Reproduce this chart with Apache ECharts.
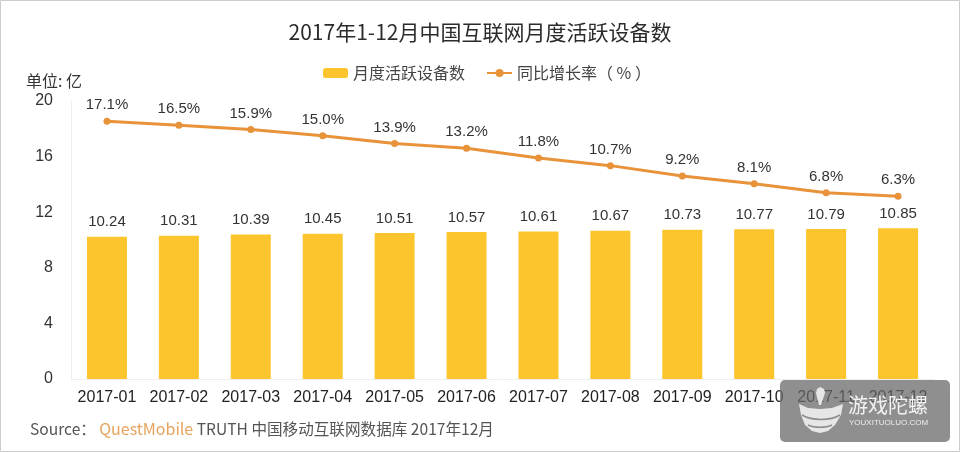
<!DOCTYPE html>
<html>
<head>
<meta charset="utf-8">
<style>
html,body{margin:0;padding:0;background:#fff}
#main{width:960px;height:452px}
</style>
<script src="https://cdn.jsdelivr.net/npm/echarts@6/dist/echarts.min.js"></script>
</head>
<body>
<div id="main"></div>
<script>
var months = ['2017-01','2017-02','2017-03','2017-04','2017-05','2017-06','2017-07','2017-08','2017-09','2017-10','2017-11','2017-12'];
var devices = [10.24,10.31,10.39,10.45,10.51,10.57,10.61,10.67,10.73,10.77,10.79,10.85];
var growth = [17.1,16.5,15.9,15.0,13.9,13.2,11.8,10.7,9.2,8.1,6.8,6.3];
var leftTicks = [0,4,8,12,16,20];

var fontName = '"Liberation Sans","Noto Sans CJK SC",sans-serif';
var cjkFont = '"Noto Sans CJK SC",sans-serif';
var textColor = '#333';

var chart = echarts.init(document.getElementById('main'), null, {renderer:'canvas'});
chart.setOption({
    animation:false,
    backgroundColor:'#fff',
    textStyle:{fontFamily:fontName},
    title:{
        text:'2017年1-12月中国互联网月度活跃设备数',
        left:'center',
        top:22,
        padding:0,
        textStyle:{fontFamily:cjkFont,fontSize:21,fontWeight:'normal',color:'#2b2b2b'}
    },
    legend:{
        top:65,
        left:323,
        itemWidth:25,
        itemHeight:10,
        itemGap:21,
        padding:0,
        textStyle:{fontFamily:cjkFont,fontSize:16,color:'#444'},
        data:[
            {name:'月度活跃设备数'},
            {name:'同比增长率（ % ）'}
        ]
    },
    grid:{left:71,right:26,top:101,bottom:73},
    xAxis:{
        type:'category',
        data:months,
        axisTick:{show:false},
        axisLine:{lineStyle:{color:'#eee'}},
        axisLabel:{color:'#222',fontSize:16,margin:11,interval:0}
    },
    yAxis:[{
        type:'value',
        min:leftTicks[0],
        max:leftTicks[leftTicks.length-1],
        interval:4,
        name:'单位: 亿',
        nameLocation:'end',
        nameGap:12,
        nameTextStyle:{fontFamily:cjkFont,fontSize:16,color:textColor,align:'left',padding:[0,0,0,-45]},
        axisLine:{show:true,lineStyle:{color:'#eee'}},
        axisTick:{show:false},
        splitLine:{show:false},
        axisLabel:{color:textColor,fontSize:16,margin:18}
    },{
        type:'value',
        min:-20,
        max:20,
        show:false,
        splitLine:{show:false}
    }],
    series:[{
        name:'月度活跃设备数',
        type:'bar',
        data:devices,
        barWidth:40,
        itemStyle:{color:'#fdc52d'},
        label:{show:true,position:'top',distance:7,color:textColor,fontSize:15,
            formatter:function(p){return p.value.toFixed(2)}}
    },{
        name:'同比增长率（ % ）',
        type:'line',
        yAxisIndex:1,
        data:growth,
        symbol:'circle',
        symbolSize:7,
        lineStyle:{color:'#e8933a',width:3},
        itemStyle:{color:'#e8933a'},
        label:{show:true,position:'top',distance:5,color:textColor,fontSize:15,
            formatter:function(p){return p.value.toFixed(1)+'%'}}
    }],
    graphic:[
        {type:'rect',z:1,silent:true,shape:{x:0.5,y:0.5,width:959,height:451},
            style:{fill:'none',stroke:'#ccc',lineWidth:1}},
        {type:'text',z:10,x:30,y:421,style:{
            text:'{a|Source：} {b|QuestMobile}{a| TRUTH 中国移动互联网数据库 2017年12月}',
            rich:{
                a:{fontFamily:cjkFont,fontSize:15.6,fill:'#555'},
                b:{fontFamily:cjkFont,fontSize:16,fill:'#e6a35c'}
            }
        }},
        // watermark
        {type:'rect',z:20,shape:{x:780,y:380,width:170,height:62,r:5},
            style:{fill:'rgba(105,105,105,0.75)'}},
        {type:'polygon',z:21,shape:{
                points:[[799,404],[808,408],[820,409],[832,408],[843,404],[841,415],[835,425],[828,431],[820,433],[812,431],[805,425],[801,415]]
            },
            style:{fill:'#e6e6e6'}},
        {type:'polygon',z:21,shape:{
                points:[[820,387],[824,389],[825,393],[821,405],[819,405],[816,393],[817,389]]
            },
            style:{fill:'#e6e6e6'}},
        {type:'bezierCurve',z:22,shape:{x1:802,y1:415,cpx1:812,cpy1:421,cpx2:830,cpy2:421,x2:840,y2:415},
            style:{fill:'none',stroke:'#8c8c8c',lineWidth:1.5}},
        {type:'bezierCurve',z:22,shape:{x1:808,y1:425,cpx1:814,cpy1:428,cpx2:826,cpy2:428,x2:832,y2:425},
            style:{fill:'none',stroke:'#8c8c8c',lineWidth:1.5}},
        {type:'text',z:21,x:848,y:395,style:{text:'游戏陀螺',fontFamily:cjkFont,fontSize:20,fill:'#f2f2f2'}},
        {type:'text',z:21,x:849,y:419,style:{text:'YOUXITUOLUO.COM',fontFamily:fontName,fontSize:8,fill:'#eee'}}
    ]
});
</script>
</body>
</html>
